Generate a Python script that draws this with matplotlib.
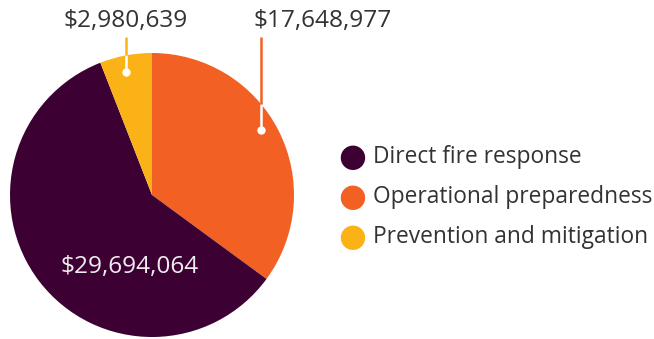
import numpy as np
import matplotlib.pyplot as plt

# slice order clockwise from 12 o'clock
categories = ["Operational preparedness", "Direct fire response", "Prevention and mitigation"]
values = [17648977, 29694064, 2980639]
colors = ["#f26024", "#3d0033", "#fbb216"]
labels = ["$17,648,977", "$29,694,064", "$2,980,639"]

legend_order = ["Direct fire response", "Operational preparedness", "Prevention and mitigation"]

plt.rcParams['font.family'] = ['Open Sans', 'DejaVu Sans']

W, H = 654, 339
fig = plt.figure(figsize=(W / 100, H / 100), dpi=100)

# pie centre (152, 195) px, radius 142 px
cx, cy, r = 152, 195, 142
ax = fig.add_axes([(cx - r) / W, (H - cy - r) / H, 2 * r / W, 2 * r / H])
ax.pie(values, colors=colors, startangle=90, counterclock=False, radius=1,
       wedgeprops=dict(linewidth=0))
ax.set_xlim(-1, 1)
ax.set_ylim(-1, 1)
ax.set_aspect("equal")
ax.axis("off")

# callout labels: (dot x, dot y, text x, ha)
callouts = {0: (0.768, 0.458, 0.715, "left"), 2: (-0.183, 0.866, -0.183, "center")}
top = 1.11
for i, (dx, dy, tx, ha) in callouts.items():
    edge = np.sqrt(1 - dx ** 2)
    ax.plot([dx, dx], [dy, edge], color="white", lw=1.8, clip_on=False, solid_capstyle="butt")
    ax.plot([dx, dx], [edge, top], color=colors[i], lw=1.8, clip_on=False, solid_capstyle="butt")
    ax.plot(dx, dy, "o", color="white", ms=6, mec="none", clip_on=False)
    ax.text(tx, top + 0.03, labels[i], ha=ha, va="bottom", fontsize=17.6, color="#333333")

ax.text(-0.158, -0.507, labels[1], ha="center", va="center", fontsize=17.6, color="#eeeeee")

# legend
for k, name in enumerate(legend_order):
    y = 157 + 40 * k
    col = colors[categories.index(name)]
    fig.text(352 / W, 1 - y / H, "\u25CF", fontsize=23, color=col, ha="center", va="center",
             family=["DejaVu Sans"])
    fig.text(373 / W, 1 - y / H, name, fontsize=16.4, color="#333333", ha="left", va="center")

fig.savefig("out.png", dpi=100)
